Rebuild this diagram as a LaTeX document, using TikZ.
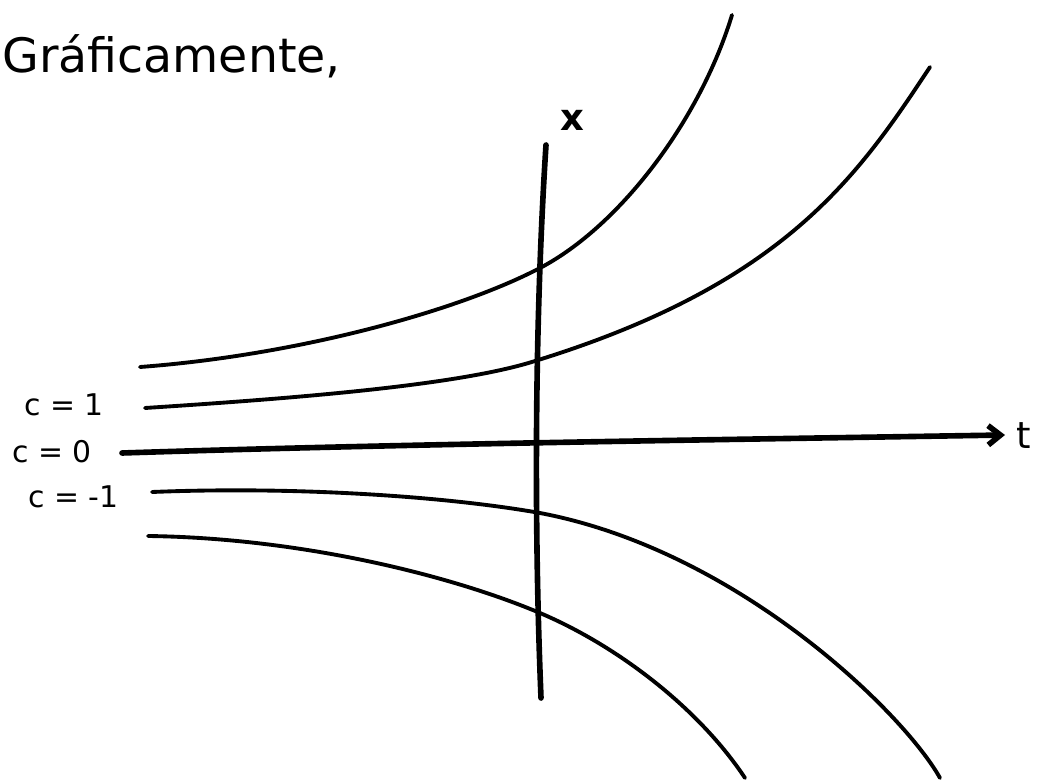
\documentclass[tikz,border=0pt]{standalone}
\usepackage{fontspec}
\setmainfont{DejaVu Sans}
\usetikzlibrary{positioning,calc,arrows.meta}
\tikzset{
  curva/.style={line width=2.2pt,line cap=round},
  eixo/.style={line width=3.2pt,line cap=round},
  rotulo/.style={font=\fontsize{17}{20}\selectfont,inner sep=0pt},
}

\begin{document}
\begin{tikzpicture}[x=0.02cm,y=-0.02cm]
  \useasboundingbox (0,0) rectangle (1038,780);
  % titulo
  \node[anchor=west,font=\fontsize{27}{32}\selectfont,inner sep=0pt] (titulo) at (2,56) {Gráficamente,};
  % eixos
  \coordinate (t0) at (122,453);
  \coordinate (t1) at (1005,435);
  \draw[eixo,-{Straight Barb[length=7pt,width=11pt]}] (t0) .. controls (400,444) and (700,440) .. (t1);
  \node[rotulo,anchor=west,font=\fontsize{21}{24}\selectfont] (tlab) at (1016,436) {t};
  \coordinate (x0) at (541,698);
  \coordinate (x1) at (546,145);
  \draw[eixo] (x0) .. controls (533,500) and (536,300) .. (x1);
  \node[rotulo,font=\bfseries\fontsize{21}{24}\selectfont] (xlab) at (572,120) {x};
  % curvas
  \draw[curva] (140,367) .. controls (300,355) and (460,310) .. (540,268)
    .. controls (620,226) and (700,120) .. (732,15);
  \draw[curva] (145,408) .. controls (300,398) and (460,385) .. (535,361)
    .. controls (785,284) and (858,176) .. (930,67);
  \draw[curva] (152,492) .. controls (300,486) and (450,497) .. (540,513)
    .. controls (740,551) and (905,715) .. (940,778);
  \draw[curva] (148,536) .. controls (300,538) and (450,575) .. (540,613)
    .. controls (620,647) and (700,710) .. (745,778);
  % valores de c
  \node[rotulo,anchor=west] (c1) at (24,405) {c = 1};
  \node[rotulo,anchor=west] (c0) at (12,452) {c = 0};
  \node[rotulo,anchor=west] (cm1) at (28,497) {c = -1};
\end{tikzpicture}
\end{document}
